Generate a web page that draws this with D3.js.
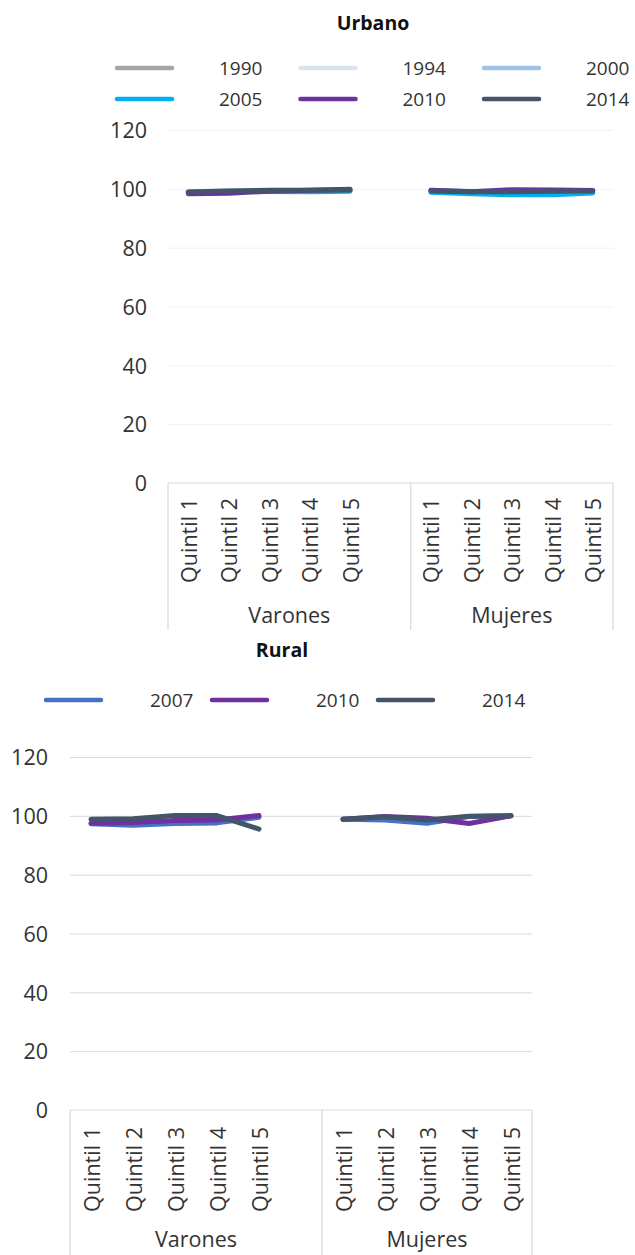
<!DOCTYPE html>
<html>
<head>
<meta charset="utf-8">
<script src="https://cdn.jsdelivr.net/npm/d3@7"></script>
<style>
  html, body { margin: 0; padding: 0; background: #ffffff; }
  svg { display: block; font-family: "Open Sans", "Noto Sans", sans-serif; }
</style>
</head>
<body>
<svg id="chart" width="635" height="1255"></svg>
<script>
// Categories
const quintiles = ["Quintil 1", "Quintil 2", "Quintil 3", "Quintil 4", "Quintil 5"];
const groups = ["Varones", "Mujeres"];
const yTicks = [0, 20, 40, 60, 80, 100, 120];

// Urbano series: first five values Varones, last five Mujeres
const urbanYears = ["1990", "1994", "2000", "2005", "2010", "2014"];
const urbanColors = ["#a5a5a5", "#dae3f3", "#9dc3e6", "#00b0f0", "#7030a0", "#44546a"];
const urban1990 = [99.0, 99.2, 99.4, 99.4, 99.5, 99.4, 99.1, 99.1, 99.3, 99.4];
const urban1994 = [99.1, 99.3, 99.4, 99.5, 99.6, 99.5, 99.2, 99.2, 99.3, 99.5];
const urban2000 = [99.0, 99.2, 99.3, 99.4, 99.5, 99.4, 99.0, 99.0, 99.2, 99.4];
const urban2005 = [98.8, 99.0, 99.1, 99.0, 99.2, 98.8, 98.3, 98.0, 98.0, 98.6];
const urban2010 = [98.3, 98.5, 99.2, 99.5, 99.9, 99.5, 99.0, 99.7, 99.6, 99.4];
const urban2014 = [98.9, 99.3, 99.5, 99.5, 99.6, 99.3, 99.0, 99.0, 99.2, 99.3];

// Rural series
const ruralYears = ["2007", "2010", "2014"];
const ruralColors = ["#4472c4", "#7030a0", "#44546a"];
const rural2007 = [97.3, 96.8, 97.4, 97.6, 99.5, 98.8, 98.6, 97.5, 99.8, 100.0];
const rural2010 = [97.5, 97.7, 98.4, 98.6, 100.1, 98.8, 99.8, 99.2, 97.4, 100.0];
const rural2014 = [98.8, 99.0, 100.1, 100.1, 95.5, 98.8, 99.7, 98.6, 99.9, 100.0];

const svg = d3.select("#chart");
const textColor = "#333333";

// Band keys: five quintiles per group, with an empty slot after Varones
const bandKeys = [];
groups.forEach((g, gi) => {
  quintiles.forEach(q => bandKeys.push(g + "|" + q));
  if (gi < groups.length - 1) bandKeys.push("gap" + gi);
});

function drawPanel(cfg) {
  const g = svg.append("g");
  const x = d3.scaleBand().domain(bandKeys).range([cfg.left, cfg.right]);
  const y = d3.scaleLinear().domain([0, 120]).range([cfg.zeroY, cfg.topY]);

  // Title
  g.append("text")
    .attr("x", cfg.titleX).attr("y", cfg.titleY)
    .attr("text-anchor", "middle").attr("dominant-baseline", "central")
    .attr("font-size", 19.5).attr("font-weight", "bold").attr("fill", "#111111")
    .text(cfg.title);

  // Legend
  const leg = g.append("g");
  cfg.years.forEach((yr, i) => {
    const col = i % cfg.legendCols, row = Math.floor(i / cfg.legendCols);
    const lx = cfg.legendX + col * cfg.legendStep;
    const ly = cfg.legendY + row * cfg.legendRowH;
    leg.append("line")
      .attr("x1", lx).attr("x2", lx + 55).attr("y1", ly).attr("y2", ly)
      .attr("stroke", cfg.colors[i]).attr("stroke-width", 4.5)
      .attr("stroke-linecap", "round");
    leg.append("text")
      .attr("x", lx + cfg.legendTextDx).attr("y", ly)
      .attr("dominant-baseline", "central")
      .attr("font-size", 19).attr("fill", textColor)
      .text(yr);
  });

  // Gridlines
  const grid = d3.axisLeft(y).tickValues(yTicks.filter(t => t > 0))
    .tickSize(-(cfg.right - cfg.left)).tickFormat("");
  g.append("g").attr("transform", `translate(${cfg.left},0)`).call(grid)
    .call(s => s.select(".domain").remove())
    .call(s => s.selectAll(".tick line").attr("stroke", cfg.gridColor).attr("stroke-width", 1));

  // Y tick labels
  const yAxis = d3.axisLeft(y).tickValues(yTicks).tickSize(0).tickPadding(0);
  g.append("g").attr("transform", `translate(${cfg.labelRight},0)`).call(yAxis)
    .call(s => s.select(".domain").remove())
    .call(s => s.selectAll(".tick text")
      .attr("font-size", 21.5).attr("fill", textColor)
      .attr("font-family", "Open Sans, sans-serif")
      .attr("dy", "0.36em"));

  // Category axis box: baseline plus group separators
  const axisCol = "#d9d9d9";
  g.append("line")
    .attr("x1", cfg.left).attr("x2", cfg.right)
    .attr("y1", y(0)).attr("y2", y(0))
    .attr("stroke", axisCol).attr("stroke-width", 1.2);
  const sepX = [cfg.left, x("gap0") + x.bandwidth(), cfg.right];
  sepX.forEach(sx => {
    g.append("line")
      .attr("x1", sx).attr("x2", sx)
      .attr("y1", y(0)).attr("y2", cfg.boxBottom)
      .attr("stroke", axisCol).attr("stroke-width", 1.2);
  });

  // Quintile labels (rotated)
  groups.forEach(gr => {
    quintiles.forEach(q => {
      const cx = x(gr + "|" + q) + x.bandwidth() / 2;
      g.append("text")
        .attr("transform", `translate(${cx},${y(0) + cfg.labelGap}) rotate(-90)`)
        .attr("text-anchor", "end").attr("dominant-baseline", "central")
        .attr("font-size", 21.5).attr("fill", textColor)
        .text(q);
    });
  });

  // Group labels
  const spans = [[cfg.left, sepX[1]], [sepX[1], cfg.right]];
  groups.forEach((gr, gi) => {
    g.append("text")
      .attr("x", (spans[gi][0] + spans[gi][1]) / 2).attr("y", cfg.groupLabelY)
      .attr("text-anchor", "middle").attr("dominant-baseline", "central")
      .attr("font-size", 21.5).attr("fill", textColor)
      .text(gr);
  });

  // Lines, one segment per group
  const line = d3.line()
    .x(d => x(d.key) + x.bandwidth() / 2)
    .y(d => y(d.v));
  cfg.series.forEach((vals, si) => {
    groups.forEach((gr, gi) => {
      const pts = quintiles.map((q, qi) => ({ key: gr + "|" + q, v: vals[gi * 5 + qi] }));
      g.append("path")
        .attr("d", line(pts))
        .attr("fill", "none")
        .attr("stroke", cfg.colors[si])
        .attr("stroke-width", 5)
        .attr("stroke-linecap", "round")
        .attr("stroke-linejoin", "round");
    });
  });
}

drawPanel({
  title: "Urbano", titleX: 373, titleY: 22,
  years: urbanYears, colors: urbanColors,
  series: [urban1990, urban1994, urban2000, urban2005, urban2010, urban2014],
  legendX: 117, legendY: 68, legendStep: 183.5, legendRowH: 31, legendCols: 3, legendTextDx: 102,
  left: 168, right: 613, zeroY: 483, topY: 130,
  labelRight: 147, gridColor: "#f2f2f2",
  boxBottom: 630, labelGap: 15, groupLabelY: 614
});

drawPanel({
  title: "Rural", titleX: 282, titleY: 649,
  years: ruralYears, colors: ruralColors,
  series: [rural2007, rural2010, rural2014],
  legendX: 46, legendY: 700, legendStep: 166, legendRowH: 31, legendCols: 3, legendTextDx: 104,
  left: 70, right: 532, zeroY: 1110, topY: 757,
  labelRight: 48, gridColor: "#d9d9d9",
  boxBottom: 1255, labelGap: 17, groupLabelY: 1238
});
</script>
</body>
</html>
